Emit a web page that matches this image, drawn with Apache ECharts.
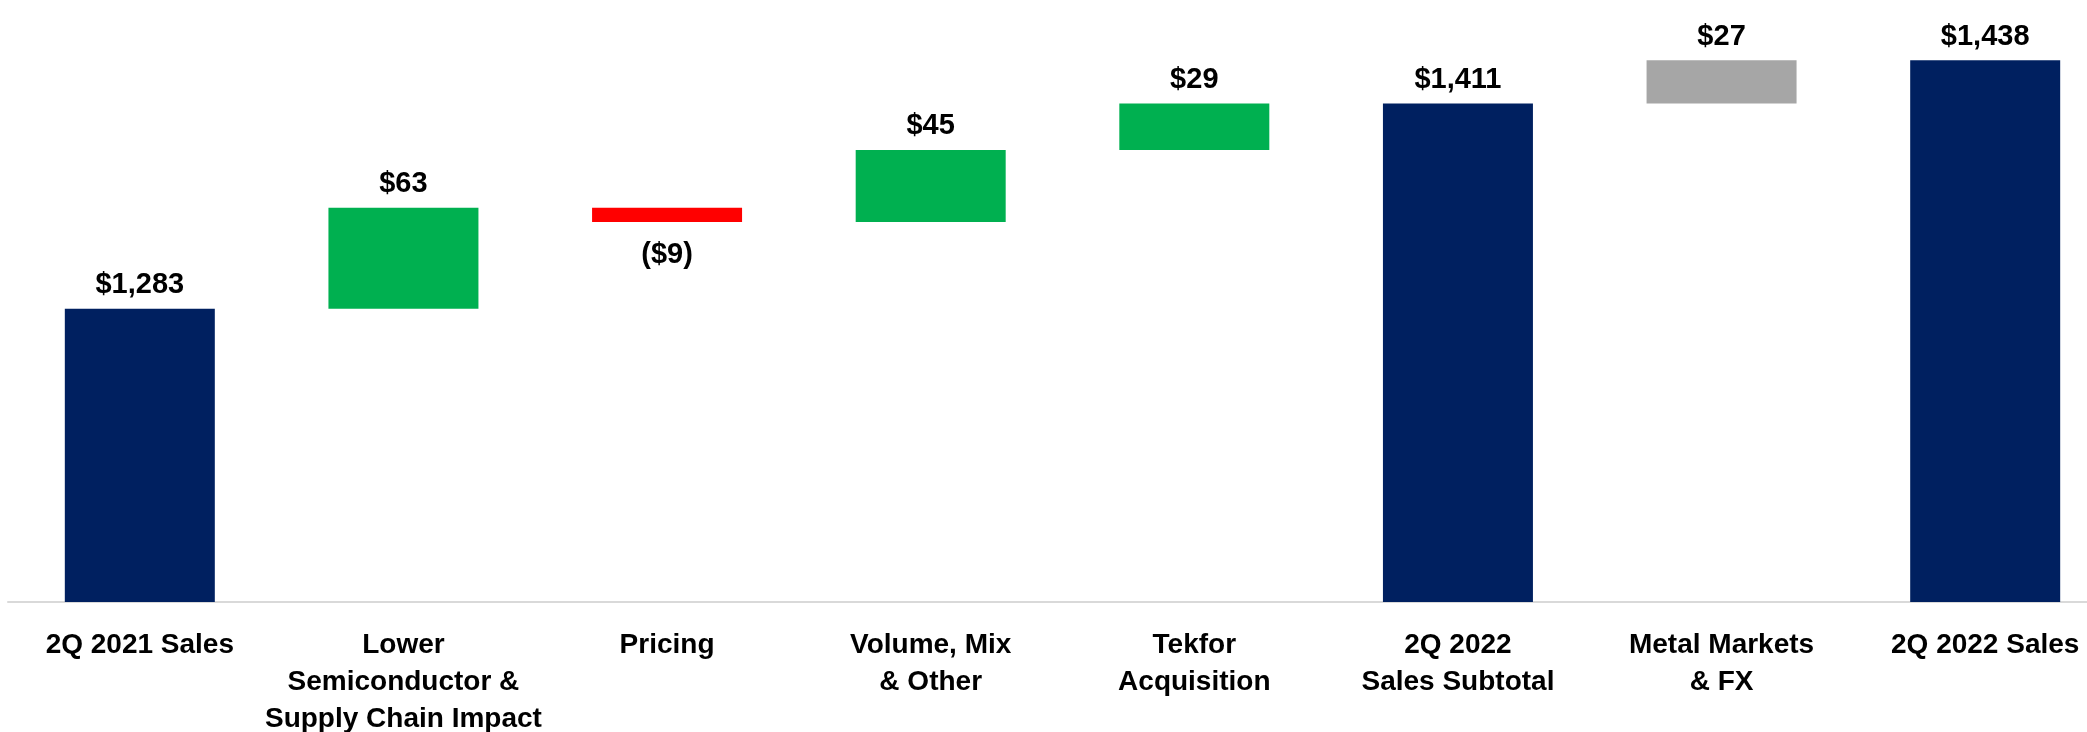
<!DOCTYPE html>
<html>
<head>
<meta charset="utf-8">
<style>
  html, body { margin: 0; padding: 0; background: #fff; }
  #chart { width: 2087px; height: 732px; }
</style>
<script src="https://cdn.jsdelivr.net/npm/echarts@6/dist/echarts.min.js"></script>
</head>
<body>
<div id="chart"></div>
<script>
const categories = [
  '2Q 2021 Sales',
  'Lower\nSemiconductor &\nSupply Chain Impact',
  'Pricing',
  'Volume, Mix\n& Other',
  'Tekfor\nAcquisition',
  '2Q 2022\nSales Subtotal',
  'Metal Markets\n& FX',
  '2Q 2022 Sales'
];
// totals are absolute, the rest are changes
const values = [1283, 63, -9, 45, 29, 1411, 27, 1438];
const kinds = ['total', 'up', 'down', 'up', 'up', 'total', 'other', 'total'];
const kindColors = { total: '#002060', up: '#00B050', down: '#FF0000', other: '#A6A6A6' };

const FONT = "'Liberation Sans Narrow', 'Arial Narrow', 'Liberation Sans', Arial, sans-serif";

// waterfall: invisible base + visible step
const bases = [];
const steps = [];
let running = 0;
values.forEach((v, i) => {
  if (kinds[i] === 'total') {
    bases.push(0);
    steps.push(v);
    running = v;
  } else if (v >= 0) {
    bases.push(running);
    steps.push(v);
    running += v;
  } else {
    running += v;
    bases.push(running);
    steps.push(-v);
  }
});

function fmt(v) {
  return v < 0 ? '($' + (-v).toLocaleString('en-US') + ')' : '$' + v.toLocaleString('en-US');
}

const chart = echarts.init(document.getElementById('chart'));
chart.setOption({
  animation: false,
  backgroundColor: '#fff',
  // plot runs a little past the right edge, like the original slide
  grid: { left: 8, top: 41, width: 2109, height: 561, outerBoundsMode: 'none' },
  xAxis: {
    type: 'category',
    data: categories,
    axisLine: { lineStyle: { color: '#D9D9D9', width: 2 } },
    axisTick: { show: false },
    axisLabel: {
      interval: 0,
      margin: 25,
      color: '#000',
      fontFamily: FONT,
      fontWeight: 'bold',
      fontSize: 28,
      lineHeight: 37
    }
  },
  yAxis: {
    type: 'value',
    min: 1100,
    max: 1450,
    show: false,
    splitLine: { show: false }
  },
  series: [
    {
      type: 'bar',
      stack: 'w',
      silent: true,
      barWidth: 150,
      itemStyle: { color: 'transparent' },
      data: bases
    },
    {
      type: 'bar',
      stack: 'w',
      barWidth: 150,
      data: steps.map((s, i) => ({
        value: s,
        itemStyle: { color: kindColors[kinds[i]] },
        label: {
          show: true,
          position: values[i] < 0 ? 'bottom' : 'top',
          distance: values[i] < 0 ? 18 : 9,
          formatter: () => fmt(values[i]),
          color: '#000',
          fontFamily: FONT,
          fontWeight: 'bold',
          fontSize: 29
        }
      }))
    }
  ]
});
</script>
</body>
</html>
